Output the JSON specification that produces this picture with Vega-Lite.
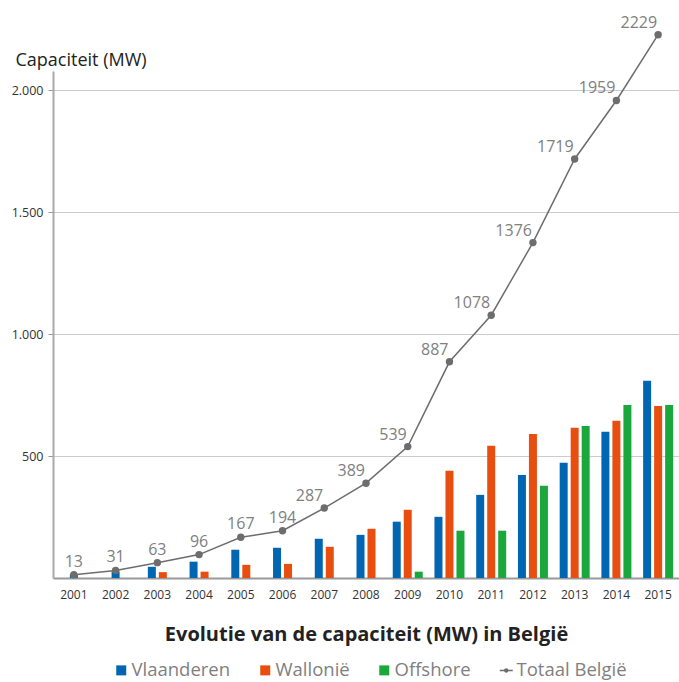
{
  "$schema": "https://vega.github.io/schema/vega-lite/v6.json",
  "width": 626,
  "height": 507,
  "autosize": "none",
  "padding": {"left": 53, "top": 71, "right": 0, "bottom": 104},
  "config": {
    "font": "Open Sans",
    "view": {"stroke": null},
    "axis": {"labelFont": "Open Sans", "titleFont": "Open Sans"}
  },
  "datasets": {
    "regions": [
      {"year": "2001", "series": "Vlaanderen", "value": 16},
      {"year": "2002", "series": "Vlaanderen", "value": 27},
      {"year": "2003", "series": "Vlaanderen", "value": 46},
      {"year": "2003", "series": "Wallonië", "value": 24},
      {"year": "2004", "series": "Vlaanderen", "value": 67},
      {"year": "2004", "series": "Wallonië", "value": 26},
      {"year": "2005", "series": "Vlaanderen", "value": 116},
      {"year": "2005", "series": "Wallonië", "value": 54},
      {"year": "2006", "series": "Vlaanderen", "value": 124},
      {"year": "2006", "series": "Wallonië", "value": 58},
      {"year": "2007", "series": "Vlaanderen", "value": 161},
      {"year": "2007", "series": "Wallonië", "value": 128},
      {"year": "2008", "series": "Vlaanderen", "value": 177},
      {"year": "2008", "series": "Wallonië", "value": 202},
      {"year": "2009", "series": "Vlaanderen", "value": 231},
      {"year": "2009", "series": "Wallonië", "value": 280},
      {"year": "2009", "series": "Offshore", "value": 26},
      {"year": "2010", "series": "Vlaanderen", "value": 251},
      {"year": "2010", "series": "Wallonië", "value": 440},
      {"year": "2010", "series": "Offshore", "value": 194},
      {"year": "2011", "series": "Vlaanderen", "value": 341},
      {"year": "2011", "series": "Wallonië", "value": 543},
      {"year": "2011", "series": "Offshore", "value": 194},
      {"year": "2012", "series": "Vlaanderen", "value": 423},
      {"year": "2012", "series": "Wallonië", "value": 591},
      {"year": "2012", "series": "Offshore", "value": 378},
      {"year": "2013", "series": "Vlaanderen", "value": 473},
      {"year": "2013", "series": "Wallonië", "value": 616},
      {"year": "2013", "series": "Offshore", "value": 624},
      {"year": "2014", "series": "Vlaanderen", "value": 600},
      {"year": "2014", "series": "Wallonië", "value": 645},
      {"year": "2014", "series": "Offshore", "value": 710},
      {"year": "2015", "series": "Vlaanderen", "value": 809},
      {"year": "2015", "series": "Wallonië", "value": 706},
      {"year": "2015", "series": "Offshore", "value": 710}
    ],
    "totals": [
      {"year": "2001", "total": 13},
      {"year": "2002", "total": 31},
      {"year": "2003", "total": 63},
      {"year": "2004", "total": 96},
      {"year": "2005", "total": 167},
      {"year": "2006", "total": 194},
      {"year": "2007", "total": 287},
      {"year": "2008", "total": 389},
      {"year": "2009", "total": 539},
      {"year": "2010", "total": 887},
      {"year": "2011", "total": 1078},
      {"year": "2012", "total": 1376},
      {"year": "2013", "total": 1719},
      {"year": "2014", "total": 1959},
      {"year": "2015", "total": 2229}
    ]
  },
  "encoding": {
    "x": {
      "field": "year",
      "type": "ordinal",
      "scale": {"paddingInner": 0, "paddingOuter": 0},
      "axis": {
        "title": "Evolutie van de capaciteit (MW) in België",
        "titleFontSize": 20,
        "titleFontWeight": "bold",
        "titleColor": "#222222",
        "titlePadding": 24,
        "labelAngle": 0,
        "labelFontSize": 12,
        "labelColor": "#333333",
        "labelPadding": 11,
        "ticks": false,
        "domainColor": "#999999",
        "domainWidth": 2,
        "grid": false
      }
    }
  },
  "layer": [
    {
      "data": {"name": "regions"},
      "transform": [
        {"window": [{"op": "row_number", "as": "rank"}], "groupby": ["year"]},
        {"joinaggregate": [{"op": "count", "as": "n"}], "groupby": ["year"]},
        {"calculate": "datum.rank - (datum.n + 1) / 2", "as": "slot"}
      ],
      "mark": {"type": "bar", "width": 8},
      "encoding": {
        "xOffset": {"field": "slot", "type": "quantitative", "scale": {"domain": [-1, 1], "range": [9.87, 31.87]}},
        "y": {
          "field": "value",
          "type": "quantitative",
          "scale": {"domain": [0, 2080], "nice": false},
          "axis": {
            "values": [500, 1000, 1500, 2000],
            "labelExpr": "replace(format(datum.value, ','), ',', '.')",
            "title": "Capaciteit (MW)",
            "titleAngle": 0,
            "titleAlign": "left",
            "titleBaseline": "alphabetic",
            "titleX": -38,
            "titleY": -6,
            "titleFontSize": 18,
            "titleFontWeight": "normal",
            "titleColor": "#222222",
            "labelFontSize": 12.5,
            "labelColor": "#333333",
            "labelPadding": 5,
            "tickSize": 5,
            "tickColor": "#999999",
            "domainColor": "#aaaaaa",
            "domainWidth": 2,
            "gridColor": "#cccccc",
            "gridWidth": 1
          }
        },
        "color": {
          "field": "series",
          "type": "nominal",
          "scale": {
            "domain": ["Vlaanderen", "Wallonië", "Offshore", "Totaal België"],
            "range": ["#0066b2", "#e84e0f", "#1aa83c", "#6d6d6d"]
          },
          "legend": {
            "title": null,
            "orient": "none",
            "legendX": 59,
            "legendY": 590,
            "direction": "horizontal",
            "labelFontSize": 18.5,
            "labelColor": "#7f7f7f",
            "labelFont": "Open Sans",
            "symbolSize": 100,
            "labelOffset": 1,
            "columnPadding": 25,
            "symbolStrokeWidth": 0,
            "encode": {
              "symbols": {
                "update": {
                  "shape": {"signal": "datum.value === 'Totaal België' ? 'M-1.3,0H1.3M-0.3,0A0.3,0.3,0,1,1,0.3,0A0.3,0.3,0,1,1,-0.3,0' : 'square'"},
                  "fill": {"signal": "scale('color', datum.value)"},
                  "stroke": {"signal": "datum.value === 'Totaal België' ? '#6d6d6d' : null"},
                  "strokeWidth": {"signal": "datum.value === 'Totaal België' ? 1.5 : 0"},
                  "opacity": {"value": 1}
                }
              }
            }
          }
        }
      }
    },
    {
      "data": {"name": "totals"},
      "mark": {"type": "line", "color": "#6d6d6d", "strokeWidth": 1.5},
      "encoding": {
        "y": {"field": "total", "type": "quantitative"},
        "color": {"datum": "Totaal België"}
      }
    },
    {
      "data": {"name": "totals"},
      "mark": {"type": "point", "filled": true, "size": 55, "color": "#6d6d6d", "opacity": 1},
      "encoding": {
        "y": {"field": "total", "type": "quantitative"}
      }
    },
    {
      "data": {"name": "totals"},
      "transform": [{"filter": "toNumber(datum.year) <= 2006"}],
      "mark": {"type": "text", "fontSize": 16, "color": "#808080", "baseline": "alphabetic", "align": "center", "dy": -8},
      "encoding": {
        "y": {"field": "total", "type": "quantitative"},
        "text": {"field": "total", "type": "nominal"}
      }
    },
    {
      "data": {"name": "totals"},
      "transform": [{"filter": "toNumber(datum.year) > 2006"}],
      "mark": {"type": "text", "fontSize": 16, "color": "#808080", "baseline": "alphabetic", "align": "right", "dx": -1, "dy": -7},
      "encoding": {
        "y": {"field": "total", "type": "quantitative"},
        "text": {"field": "total", "type": "nominal"}
      }
    }
  ]
}
